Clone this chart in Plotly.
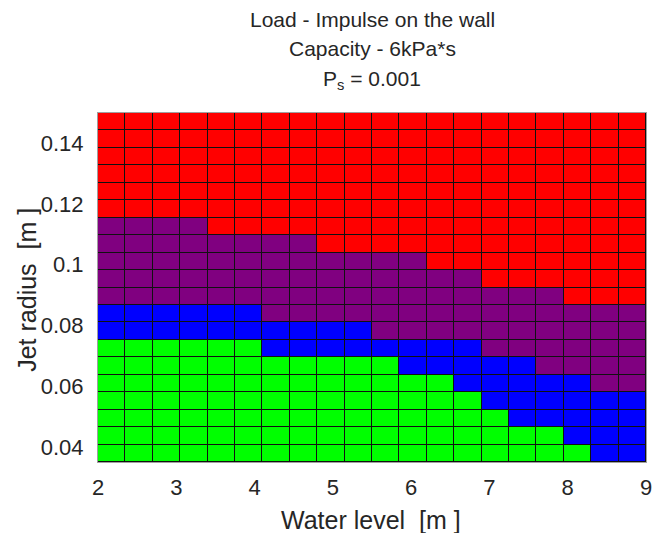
import numpy as np
import plotly.graph_objects as go

# Grid: water level (x) and jet radius (y) cell edges
water_level = np.linspace(2.0, 9.0, 21)
jet_radius = np.linspace(0.035, 0.15, 21)

# Per column (water-level cell), number of radius cells from the bottom
# that fall below each outcome boundary
green_top = [7, 7, 7, 7, 7, 7, 6, 6, 6, 6, 6, 5, 5, 4, 3, 2, 2, 1, 0, 0]
blue_top = [9, 9, 9, 9, 9, 9, 8, 8, 8, 8, 7, 7, 7, 7, 6, 6, 5, 5, 4, 4]
purple_top = [14, 14, 14, 14, 13, 13, 13, 13, 12, 12, 12, 12, 11, 11, 10, 10, 10, 9, 9, 9]

category_colors = ["#00FF00", "#0000FF", "#800080", "#FF0000"]

x_ticks = [2, 3, 4, 5, 6, 7, 8, 9]
y_ticks = [0.04, 0.06, 0.08, 0.1, 0.12, 0.14]
y_tick_text = ["0.04", "0.06", "0.08", "0.1", "0.12", "0.14"]

n_cols = len(water_level) - 1
n_rows = len(jet_radius) - 1
z = np.zeros((n_rows, n_cols), dtype=int)
for c in range(n_cols):
    for r in range(n_rows):
        if r < green_top[c]:
            z[r, c] = 0
        elif r < blue_top[c]:
            z[r, c] = 1
        elif r < purple_top[c]:
            z[r, c] = 2
        else:
            z[r, c] = 3

n_cat = len(category_colors)
colorscale = []
for i, col in enumerate(category_colors):
    colorscale.append([i / n_cat, col])
    colorscale.append([(i + 1) / n_cat, col])

fig = go.Figure(
    go.Heatmap(
        x=water_level,
        y=jet_radius,
        z=z,
        zmin=-0.5,
        zmax=n_cat - 0.5,
        colorscale=colorscale,
        showscale=False,
        xgap=1,
        ygap=1,
        hoverinfo="skip",
    )
)

text_color = "#262626"
font_family = "Liberation Sans, Arial, sans-serif"

# plot area in pixels: left 98, right 652, top 113, bottom 462
L, R, T, B = 98, 652, 113, 462
W, H = 656, 533
fig.update_layout(
    width=W,
    height=H,
    margin=dict(l=L, r=W - R, t=T, b=H - B),
    paper_bgcolor="white",
    plot_bgcolor="#111111",
    font=dict(family=font_family, color=text_color, size=17),
    showlegend=False,
)

fig.update_xaxes(
    range=[2, 9],
    tickvals=x_ticks,
    ticktext=[str(v) for v in x_ticks],
    ticks="",
    ticklabelstandoff=6,
    ticklabeloverflow="allow",
    tickfont=dict(size=22, color=text_color),
    showgrid=False,
    zeroline=False,
    showline=True,
    linecolor="#a0a0a0",
    linewidth=1,
    mirror=True,
)
fig.update_yaxes(
    range=[0.035, 0.15],
    tickvals=y_ticks,
    ticktext=y_tick_text,
    ticks="",
    ticklabelstandoff=9,
    tickfont=dict(size=22, color=text_color),
    showgrid=False,
    zeroline=False,
    showline=True,
    linecolor="#a0a0a0",
    linewidth=1,
    mirror=True,
)


def px_x(px):
    return (px - L) / (R - L)


def px_y(py):
    return (B - py) / (B - T)


# axis titles
fig.add_annotation(
    text="Water level\u00a0\u00a0[m ]",
    xref="paper", yref="paper",
    x=px_x(374), y=px_y(520),
    xanchor="center", yanchor="middle",
    showarrow=False,
    font=dict(size=25, color=text_color, family=font_family),
)
fig.add_annotation(
    text="Jet radius\u00a0\u00a0[m ]",
    xref="paper", yref="paper",
    x=px_x(26), y=px_y(290),
    xanchor="center", yanchor="middle",
    textangle=-90,
    showarrow=False,
    font=dict(size=25, color=text_color, family=font_family),
)

# three-line title
title_lines = [
    ("Load - Impulse on the wall", 19),
    ("Capacity - 6kPa*s", 49),
    ("P<sub>s</sub> = 0.001", 80),
]
for text, ypx in title_lines:
    fig.add_annotation(
        text=text,
        xref="paper", yref="paper",
        x=0.5, y=px_y(ypx),
        xanchor="center", yanchor="middle",
        showarrow=False,
        font=dict(size=21, color=text_color, family=font_family),
    )

fig.write_html("out.html")
